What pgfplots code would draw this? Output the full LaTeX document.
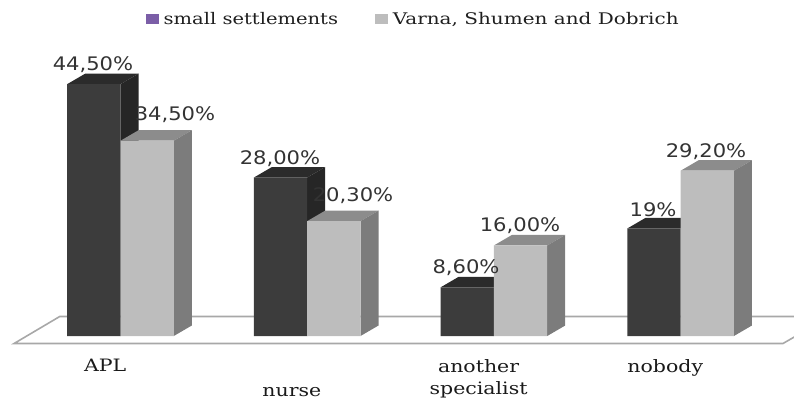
\documentclass[border=0pt]{standalone}
\usepackage{pgfplots}
\usepackage{graphicx}
\pgfplotsset{compat=1.18}
\usepackage{fontspec}
\setmainfont{DejaVu Serif}
\newfontfamily\labfont{DejaVu Sans}
\definecolor{dfront}{HTML}{3C3C3C}
\definecolor{dtop}{HTML}{2B2B2B}
\definecolor{dside}{HTML}{262626}
\definecolor{lfront}{HTML}{BDBDBD}
\definecolor{ltop}{HTML}{8C8C8C}
\definecolor{lside}{HTML}{7C7C7C}
\definecolor{floorc}{HTML}{A8A8A8}
\definecolor{legp}{HTML}{7B5EA7}
\newcommand{\depth}[5]{% x-left, x-right, value, top colour, side colour
  \addplot[forget plot,fill=#4,draw=none] coordinates {({#1},#3) ({#1+0.0964},{#3+1.855}) ({#2+0.0964},{#3+1.855}) ({#2},#3)} --cycle;
  \addplot[forget plot,fill=#5,draw=none] coordinates {({#2},0) ({#2+0.0964},1.855) ({#2+0.0964},{#3+1.855}) ({#2},#3)} --cycle;
}
\newcommand{\lab}[3]{\node[font=\labfont\fontsize{14pt}{15pt}\selectfont,text=black!80,xscale=1.13,inner sep=0pt] at (axis cs:{(#1-120.5)/186.7},{(336-#2)/5.66}) {#3};}
\begin{document}
\begin{tikzpicture}
\useasboundingbox (0pt,0pt) rectangle (595.5pt,300.75pt);
\begin{axis}[
  at={(0pt,38.25pt)},anchor=south west,
  scale only axis,
  width=595.5pt,height=262.5pt,
  xmin=-0.6454,xmax=3.6072,
  ymin=-2.473,ymax=59.364,
  axis line style={draw=none},
  major tick length=0pt,
  ytick=\empty,
  xtick={0,1,2,3},
  xticklabels={APL,{\strut\\nurse},{another\\specialist},nobody},
  x tick label style={align=center,xshift=-11.5pt,yshift=-3.5pt,font=\fontsize{12.8pt}{16.5pt}\selectfont,text=black!90,xscale=1.2},
  legend style={at={(axis cs:1.575,56)},anchor=center,draw=none,fill=none,
    legend columns=2,font=\fontsize{12pt}{13pt}\selectfont,text=black!88,
    /tikz/every even column/.append style={column sep=24pt},
    nodes={inner xsep=3.5pt}},
  legend cell align=left,
  area legend,
  legend image code/.code={\fill[draw=none,#1] (0pt,-4pt) rectangle (10pt,4pt);},
  clip=true,
]
\addlegendimage{fill=legp}
\addlegendentry{\scalebox{1.22}[1]{small settlements}}
\addlegendimage{fill=lfront}
\addlegendentry{\scalebox{1.25}[1]{Varna, Shumen and Dobrich}}
% floor
\addplot[forget plot,draw=floorc,line width=1.2pt] coordinates {(-0.5700,-1.325) (-0.3255,3.445) (3.8,3.445) (3.5480,-1.325)} --cycle;
% dark series
\depth{-0.2855}{0}{44.5}{dtop}{dside}
\depth{0.7145}{1}{28.0}{dtop}{dside}
\depth{1.7145}{2}{8.6}{dtop}{dside}
\depth{2.7145}{3}{19}{dtop}{dside}
\addplot[forget plot,ybar,bar width=0.2855,bar shift=-0.14275,fill=dfront,draw=none] coordinates {(0,44.5) (1,28.0) (2,8.6) (3,19)};
% light series
\depth{0}{0.2855}{34.5}{ltop}{lside}
\depth{1}{1.2855}{20.3}{ltop}{lside}
\depth{2}{2.2855}{16.0}{ltop}{lside}
\depth{3}{3.2855}{29.2}{ltop}{lside}
\addplot[forget plot,ybar,bar width=0.2855,bar shift=0.14275,fill=lfront,draw=none] coordinates {(0,34.5) (1,20.3) (2,16.0) (3,29.2)};
\lab{93}{65}{44,50\%}
\lab{175}{115}{34,50\%}
\lab{280}{159}{28,00\%}
\lab{353}{196}{20,30\%}
\lab{466}{268}{8,60\%}
\lab{520}{226}{16,00\%}
\lab{653}{210}{19\%}
\lab{706}{152}{29,20\%}
\end{axis}
\end{tikzpicture}
\end{document}
